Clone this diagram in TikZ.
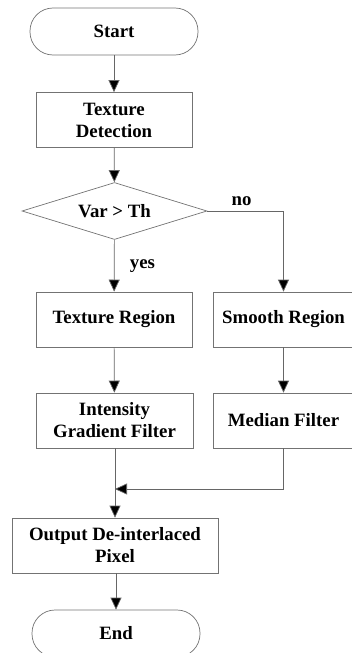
\documentclass[tikz,border=0pt]{standalone}
\usepackage{fontspec}
\setmainfont{Liberation Serif}
\usetikzlibrary{arrows.meta,shapes.geometric}

\tikzset{
	box/.style={draw=black!55, line width=0.7pt, align=center, inner sep=0pt,
		font=\bfseries\fontsize{18.8}{22}\selectfont},
	term/.style={box, minimum width=168pt, minimum height=47pt, rounded corners=23pt},
	proc/.style={box, minimum height=55pt},
	decide/.style={box, diamond, aspect=3.25, minimum width=185pt, minimum height=57pt},
	arr/.style={draw=black!60, line width=0.7pt, -{Triangle[length=12pt,width=11pt,fill=black]}},
	lbl/.style={font=\bfseries\fontsize{18.8}{22}\selectfont}
}

\begin{document}
\begin{tikzpicture}[x=1pt,y=-1pt]
	\useasboundingbox (0,0) rectangle (352,653);
	\node[term] (start) at (114,31.5) {Start};
	\node[proc, minimum width=156pt] (det) at (114,120) {Texture\\Detection};
	\node[decide] (dec) at (114.5,211) {Var > Th};
	\node[proc, minimum width=156pt] (texreg) at (114,319.5) {Texture Region};
	\node[proc, minimum width=141pt] (smreg) at (283.5,319.5) {Smooth Region};
	\node[proc, minimum width=157pt] (grad) at (114.5,420.5) {Intensity\\Gradient Filter};
	\node[proc, minimum width=141pt] (med) at (283.5,420.5) {Median Filter};
	\node[proc, minimum width=206pt] (out) at (115,545.5) {Output De-interlaced\\Pixel};
	\node[term] (end) at (116,633.5) {End};
	\coordinate (join) at (115,489);

	\draw[arr] (start) -- (det);
	\draw[arr] (det) -- (dec);
	\draw[arr] (dec) -- node[lbl, right=12pt] {yes} (texreg);
	\draw[arr] (dec.east) -- node[lbl, above=2pt, pos=0.45] {no} (dec.east -| smreg.north) -- (smreg.north);
	\draw[arr] (texreg) -- (grad);
	\draw[arr] (smreg) -- (med);
	\draw[arr] (grad.south -| join) -- (join |- out.north);
	\draw[arr] (med.south) |- (join);
	\draw[arr] (out.south -| end.north) -- (end.north);
\end{tikzpicture}
\end{document}
